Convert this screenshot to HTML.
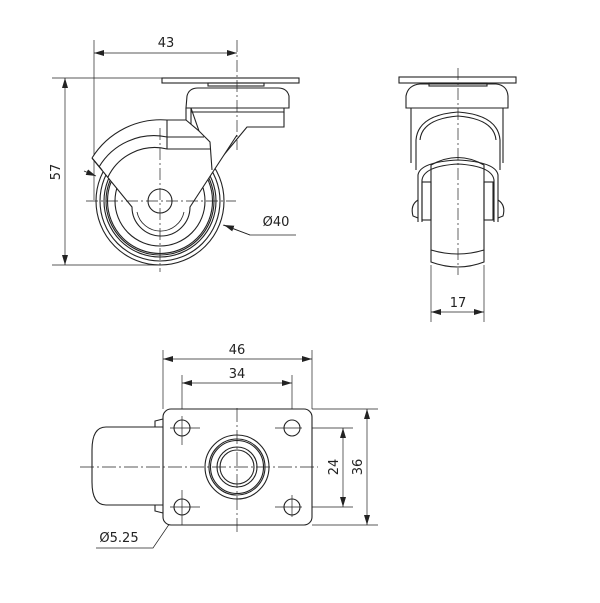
<!DOCTYPE html>
<html><head><style>html,body{margin:0;padding:0;background:#fff}svg{display:block}text{font-family:"DejaVu Sans","Liberation Sans",sans-serif;font-size:13px;fill:#222}</style></head>
<body>
<svg width="600" height="603" viewBox="0 0 600 603" xmlns="http://www.w3.org/2000/svg">
<defs><marker id="a" viewBox="0 0 10 6" refX="10" refY="3" markerWidth="10" markerHeight="6" orient="auto-start-reverse" markerUnits="userSpaceOnUse"><path d="M0,0L10,3L0,6z" fill="#222"/></marker></defs>
<g fill="none" stroke="#222" stroke-width="1.1">
<!-- SIDE VIEW -->
<g stroke-width="0.7">
<line x1="94" y1="40" x2="94" y2="200"/>
<line x1="52" y1="78" x2="162" y2="78"/>
<line x1="52" y1="265" x2="160" y2="265"/>
<line x1="94" y1="53" x2="237" y2="53" marker-start="url(#a)" marker-end="url(#a)"/>
<line x1="65" y1="78" x2="65" y2="265" marker-start="url(#a)" marker-end="url(#a)"/>
<polyline points="223,225 250,235 296,235"/>
<line x1="250" y1="235" x2="224" y2="225" marker-end="url(#a)"/>
<line x1="84" y1="171" x2="96" y2="176" marker-end="url(#a)"/>
</g>
<rect x="162" y="78" width="137" height="5"/>
<rect x="208" y="83" width="56" height="3"/>
<path d="M186,108 L187,96 Q189,88 198,88 L278,88 Q287,88 289,96 L289,108 Z"/>
<path d="M191,108 L191,112 L284,112 L284,108"/>
<path d="M191,112 L191,127 M284,112 L284,127 L247,127 L213,168"/>
<circle cx="160" cy="201" r="64"/>
<circle cx="160" cy="201" r="60"/>
<circle cx="160" cy="201" r="56"/>
<circle cx="160" cy="201" r="54"/>
<circle cx="160" cy="201" r="52.5"/>
<circle cx="160" cy="201" r="45"/>
<path d="M92,158 L132,207 A28,28 0 0 0 190,207 L237,135" fill="#fff"/>
<path d="M137,212 A24,24 0 0 0 184,212" stroke-width="0.8"/>
<path d="M92,158 A81,81 0 0 1 167,120 L186,120 L199,131 L210,142 L212,170" fill="#fff"/>
<path d="M92,158 L102,170"/>
<path d="M99,167 A64,64 0 0 1 167,137 L204,137"/>
<path d="M108,177 A52,52 0 0 1 167,149 L210,149"/>
<line x1="167" y1="120" x2="167" y2="149"/>
<line x1="186" y1="108" x2="186" y2="120"/>
<line x1="191" y1="108" x2="199" y2="131"/>
<circle cx="160" cy="201" r="12"/>
<g stroke-width="0.7">
<line x1="237" y1="40" x2="237" y2="150" stroke-dasharray="12,3,2,3"/>
<line x1="160" y1="128" x2="160" y2="272" stroke-dasharray="12,3,2,3"/>
<line x1="86" y1="201" x2="236" y2="201" stroke-dasharray="12,3,2,3"/>
</g>
<!-- FRONT VIEW -->
<g stroke-width="0.7">
<line x1="431" y1="265" x2="431" y2="322"/>
<line x1="484" y1="265" x2="484" y2="322"/>
<line x1="431" y1="312" x2="484" y2="312" marker-start="url(#a)" marker-end="url(#a)"/>
</g>
<rect x="399" y="77" width="117" height="6"/>
<rect x="429" y="83" width="58" height="3"/>
<path d="M406,108 L406,96 Q408,85 420,84 L496,84 Q507,85 508,96 L508,108 Z"/>
<path d="M411,108 L411,163 M503,108 L503,163"/>
<path d="M416,140 Q418,115 458,112 Q498,115 500,140 L500,170 M416,140 L416,170"/>
<path d="M420,140 Q422,119 458,116 Q494,119 496,140"/>
<path d="M431,165 L431,250 Q458,258 484,250 L484,165 Q458,150 431,165 Z"/>
<path d="M431,250 L431,262 Q458,272 484,262 L484,250"/>
<path d="M418,222 L418,175 Q420,162 458,160 Q496,162 498,175 L498,222"/>
<path d="M422,222 L422,180 Q424,166 458,164 Q492,166 494,180 L494,222"/>
<path d="M418,200 Q410,205 413,216 L418,218 M498,200 Q506,205 503,216 L498,218"/>
<rect x="422" y="182" width="9" height="38"/>
<rect x="484" y="182" width="9" height="38"/>
<line x1="458" y1="68" x2="458" y2="275" stroke-dasharray="12,3,2,3" stroke-width="0.7"/>
<!-- BOTTOM VIEW -->
<g stroke-width="0.7">
<line x1="163" y1="350" x2="163" y2="409"/>
<line x1="312" y1="350" x2="312" y2="409"/>
<line x1="182" y1="375" x2="182" y2="445"/>
<line x1="292" y1="375" x2="292" y2="445"/>
<line x1="163" y1="359" x2="312" y2="359" marker-start="url(#a)" marker-end="url(#a)"/>
<line x1="182" y1="383" x2="292" y2="383" marker-start="url(#a)" marker-end="url(#a)"/>
<line x1="312" y1="409" x2="378" y2="409"/>
<line x1="312" y1="525" x2="378" y2="525"/>
<line x1="275" y1="428" x2="353" y2="428"/>
<line x1="275" y1="507" x2="353" y2="507"/>
<line x1="343" y1="428" x2="343" y2="507" marker-start="url(#a)" marker-end="url(#a)"/>
<line x1="367" y1="409" x2="367" y2="525" marker-start="url(#a)" marker-end="url(#a)"/>
<polyline points="96,548 153,548 172,520"/>
<line x1="196" y1="486" x2="190" y2="496" marker-end="url(#a)"/>
</g>
<path d="M163,427 L106,427 Q92,427 92,450 L92,482 Q92,505 106,505 L163,505"/>
<path d="M155,427 L155,421 L163,419 M155,505 L155,511 L163,513"/>
<rect x="163" y="409" width="149" height="116" rx="8" fill="#fff"/>
<circle cx="182" cy="428" r="8"/><circle cx="292" cy="428" r="8"/>
<circle cx="182" cy="507" r="8"/><circle cx="292" cy="507" r="8"/>
<circle cx="237" cy="467" r="32"/>
<circle cx="237" cy="467" r="28"/>
<circle cx="237" cy="467" r="26.5"/>
<circle cx="237" cy="467" r="20"/>
<circle cx="237" cy="467" r="17"/>
<g stroke-width="0.7">
<line x1="80" y1="467" x2="318" y2="467" stroke-dasharray="14,3,2,3"/>
<line x1="237" y1="408" x2="237" y2="532" stroke-dasharray="14,3,2,3"/>
<line x1="170" y1="428" x2="200" y2="428"/><line x1="182" y1="416" x2="182" y2="445"/>
<line x1="170" y1="507" x2="200" y2="507"/><line x1="182" y1="490" x2="182" y2="525"/>
<line x1="275" y1="428" x2="302" y2="428"/>
<line x1="275" y1="507" x2="302" y2="507"/><line x1="292" y1="495" x2="292" y2="517"/>
</g>
</g>
<text x="166" y="47" text-anchor="middle">43</text>
<text transform="translate(60,172) rotate(-90)" text-anchor="middle">57</text>
<text x="276" y="226" text-anchor="middle">Ø40</text>
<text x="458" y="307" text-anchor="middle">17</text>
<text x="237" y="354" text-anchor="middle">46</text>
<text x="237" y="378" text-anchor="middle">34</text>
<text transform="translate(338,467) rotate(-90)" text-anchor="middle">24</text>
<text transform="translate(362,467) rotate(-90)" text-anchor="middle">36</text>
<text x="119" y="542" text-anchor="middle">Ø5.25</text>
</svg>
</body></html>
